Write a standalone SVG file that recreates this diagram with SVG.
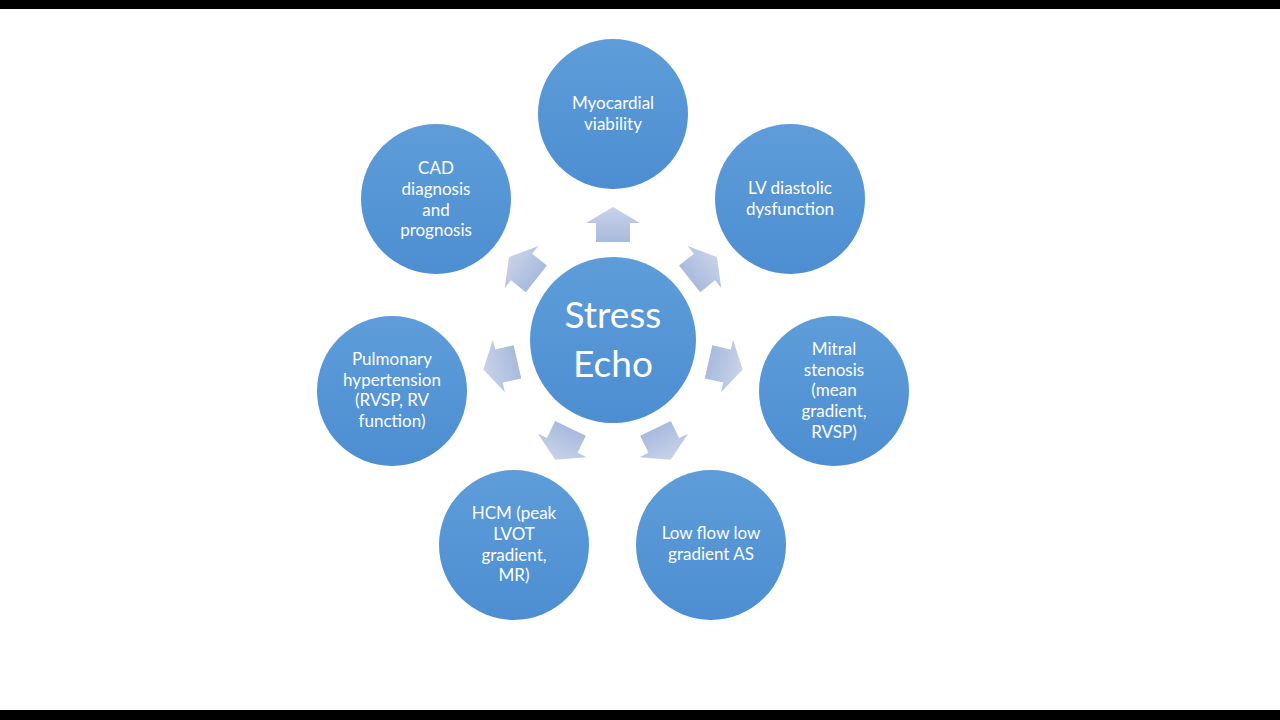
<svg xmlns="http://www.w3.org/2000/svg" width="1280" height="720" viewBox="0 0 1280 720">
<defs>
<linearGradient id="cg" x1="0" y1="0" x2="0" y2="1">
<stop offset="0" stop-color="#5e9dd9"/>
<stop offset="1" stop-color="#4d8ed2"/>
</linearGradient>
<linearGradient id="ag" gradientUnits="userSpaceOnUse" x1="0" y1="-133" x2="0" y2="-98">
<stop offset="0" stop-color="#c9d3e8"/>
<stop offset="1" stop-color="#a8bade"/>
</linearGradient>
<path id="arr" d="M0,-133 L27,-117 L17,-117 L17,-98 L-17,-98 L-17,-117 L-27,-117 Z" fill="url(#ag)"/>
</defs>
<style>
.c{fill:url(#cg);}
.t{font-family:Lato,"Open Sans",sans-serif;font-size:17px;fill:#ffffff;text-anchor:middle;}
.big{font-family:Lato,"Open Sans",sans-serif;font-size:37px;fill:#ffffff;text-anchor:middle;}
</style>
<rect x="0" y="0" width="1280" height="720" fill="#ffffff"/>
<rect x="0" y="0" width="1280" height="9" fill="#000000"/>
<rect x="0" y="710" width="1280" height="10" fill="#000000"/>
<g id="connectors" transform="translate(613,340)">
<use href="#arr" transform="rotate(0)"/>
<use href="#arr" transform="rotate(51.43)"/>
<use href="#arr" transform="rotate(102.86)"/>
<use href="#arr" transform="rotate(154.29)"/>
<use href="#arr" transform="rotate(205.71)"/>
<use href="#arr" transform="rotate(257.14)"/>
<use href="#arr" transform="rotate(308.57)"/>
</g>
<g id="center">
<circle class="c" cx="613" cy="340" r="83"/>
<text class="big" x="613" y="328">Stress</text>
<text class="big" x="613" y="377">Echo</text>
</g>
<g id="myocardial">
<circle class="c" cx="613" cy="114" r="75"/>
<text class="t" x="613" y="109">Myocardial</text>
<text class="t" x="613" y="130">viability</text>
</g>
<g id="lv">
<circle class="c" cx="790" cy="199" r="75"/>
<text class="t" x="790" y="194">LV diastolic</text>
<text class="t" x="790" y="215">dysfunction</text>
</g>
<g id="mitral">
<circle class="c" cx="834" cy="391" r="75"/>
<text class="t" x="834" y="355">Mitral</text>
<text class="t" x="834" y="376">stenosis</text>
<text class="t" x="834" y="396">(mean</text>
<text class="t" x="834" y="417">gradient,</text>
<text class="t" x="834" y="438">RVSP)</text>
</g>
<g id="lowflow">
<circle class="c" cx="711" cy="545" r="75"/>
<text class="t" x="711" y="539">Low flow low</text>
<text class="t" x="711" y="560">gradient AS</text>
</g>
<g id="hcm">
<circle class="c" cx="514" cy="545" r="75"/>
<text class="t" x="514" y="519">HCM (peak</text>
<text class="t" x="514" y="540">LVOT</text>
<text class="t" x="514" y="561">gradient,</text>
<text class="t" x="514" y="581">MR)</text>
</g>
<g id="pulmonary">
<circle class="c" cx="392" cy="391" r="75"/>
<text class="t" x="392" y="365">Pulmonary</text>
<text class="t" x="392" y="386">hypertension</text>
<text class="t" x="392" y="406">(RVSP, RV</text>
<text class="t" x="392" y="427">function)</text>
</g>
<g id="cad">
<circle class="c" cx="436" cy="199" r="75"/>
<text class="t" x="436" y="174">CAD</text>
<text class="t" x="436" y="195">diagnosis</text>
<text class="t" x="436" y="216">and</text>
<text class="t" x="436" y="236">prognosis</text>
</g>
</svg>
